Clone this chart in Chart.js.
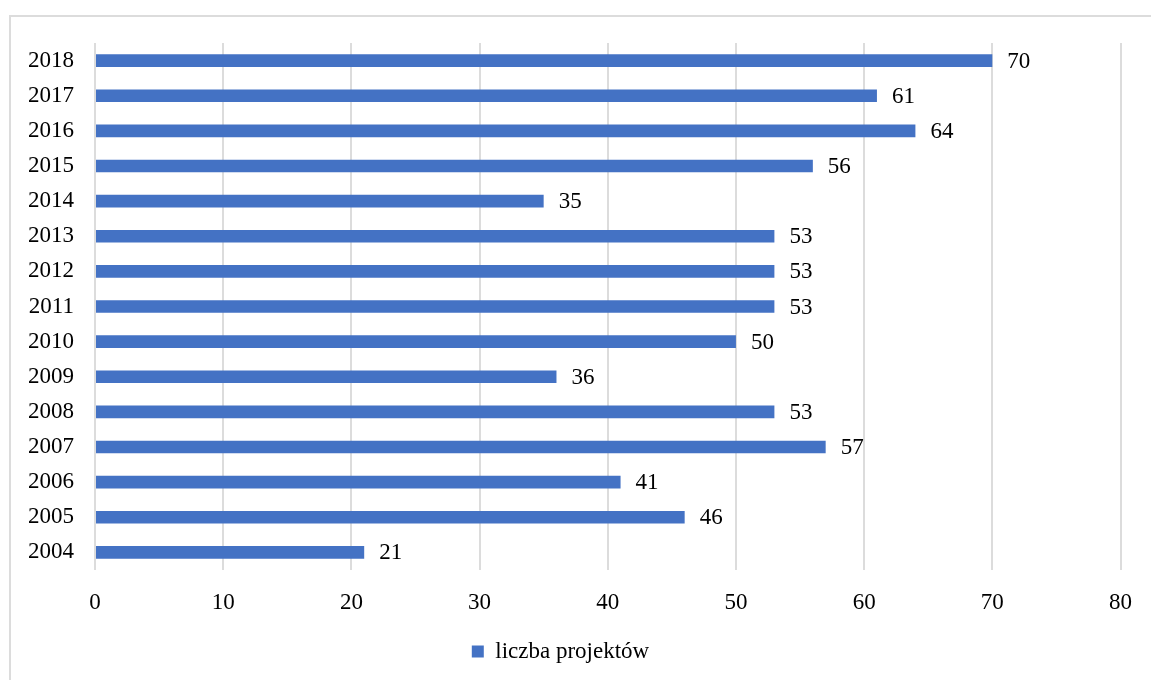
<!DOCTYPE html>
<html lang="pl">
<head>
<meta charset="UTF-8">
<title>liczba projektów</title>
<style>
  html, body { margin: 0; padding: 0; background: #fff; overflow: hidden; }
  .frame {
    position: absolute; left: 9px; top: 15px;
    width: 1200px; height: 700px;
    border: 2px solid #dcdcdc;
  }
  #chart { position: absolute; left: 0; top: 0; }
</style>
</head>
<body>
<div class="frame"></div>
<canvas id="chart" width="1151" height="680"></canvas>

<script src="https://cdn.jsdelivr.net/npm/chart.js"></script>
<script>
  // lata i liczba projektów w danym roku
  const lata = ['2004', '2005', '2006', '2007', '2008', '2009', '2010', '2011',
                '2012', '2013', '2014', '2015', '2016', '2017', '2018'];
  const liczbaProjektow = [21, 46, 41, 57, 53, 36, 50, 53, 53, 53, 35, 56, 64, 61, 70];
  const etykietaSerii = 'liczba projektów';
  const skalaX = { min: 0, max: 80, krok: 10 };

  const czcionka = { family: '"Liberation Serif", "Times New Roman", serif', size: 23 };
  const niebieski = '#4472C4';

  // wartości przy końcach słupków
  const wartosciPlugin = {
    id: 'wartosci',
    afterDatasetsDraw(chart) {
      const ctx = chart.ctx;
      const meta = chart.getDatasetMeta(0);
      ctx.save();
      ctx.font = czcionka.size + 'px ' + czcionka.family;
      ctx.fillStyle = '#000';
      ctx.textAlign = 'left';
      ctx.textBaseline = 'middle';
      meta.data.forEach((bar, i) => {
        ctx.fillText(String(chart.data.datasets[0].data[i]), bar.x + 15, bar.y + 1);
      });
      ctx.restore();
    }
  };

  new Chart(document.getElementById('chart'), {
    type: 'bar',
    data: {
      labels: lata,
      datasets: [{
        label: etykietaSerii,
        data: liczbaProjektow,
        backgroundColor: niebieski,
        borderWidth: 0,
        barPercentage: 0.72,
        categoryPercentage: 0.5
      }]
    },
    options: {
      indexAxis: 'y',
      responsive: false,
      animation: false,
      layout: { padding: { left: 0, right: 30, top: 43, bottom: 7 } },
      scales: {
        x: {
          min: skalaX.min,
          max: skalaX.max,
          ticks: { stepSize: skalaX.krok, color: '#000', font: czcionka, padding: 19 },
          grid: { color: '#dcdcdc', lineWidth: 2, drawTicks: false },
          border: { display: false },
          afterFit: (s) => { s.height = 60; }
        },
        y: {
          reverse: true,
          ticks: { color: '#000', font: czcionka, padding: 21 },
          grid: { display: false, drawTicks: false },
          border: { display: false },
          afterFit: (s) => { s.width = 95; }
        }
      },
      plugins: {
        legend: {
          position: 'bottom',
          labels: {
            color: '#000',
            font: czcionka,
            boxWidth: 12,
            boxHeight: 12,
            padding: 10
          }
        },
        tooltip: { enabled: false }
      }
    },
    plugins: [wartosciPlugin]
  });
</script>
</body>
</html>
